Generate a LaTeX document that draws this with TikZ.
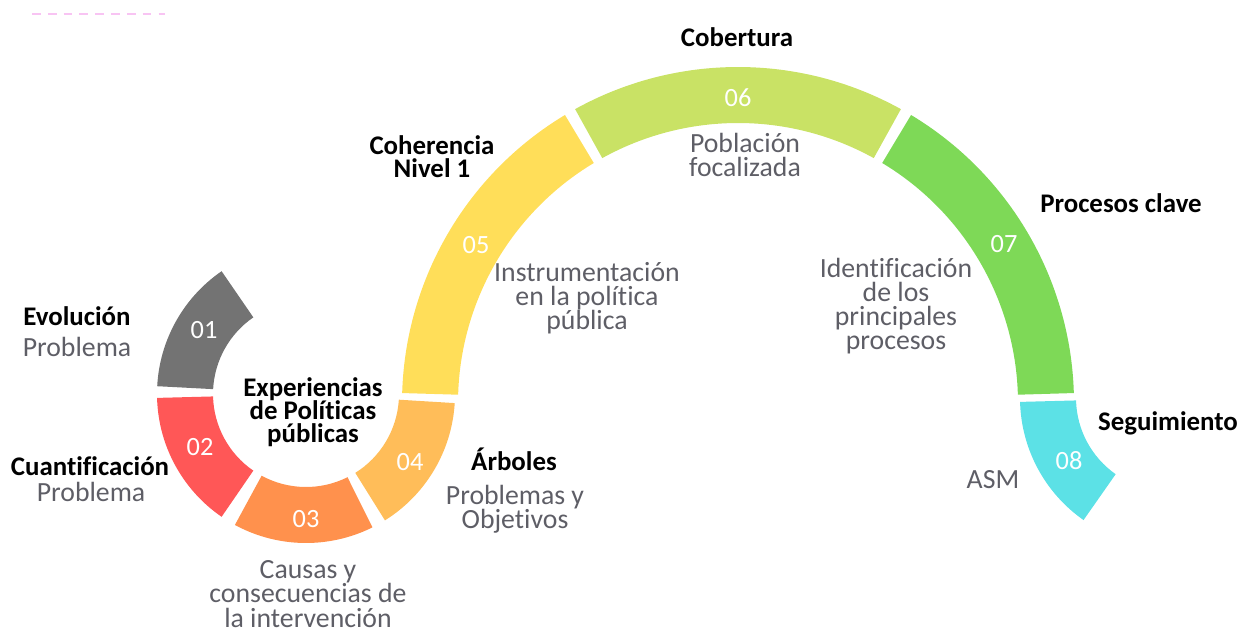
\documentclass[tikz,border=0pt]{standalone}
\usepackage{fontspec}
\setmainfont{Carlito}[Ligatures=CommonOff]
\definecolor{c01}{HTML}{737373}
\definecolor{c02}{HTML}{FF5757}
\definecolor{c03}{HTML}{FF914D}
\definecolor{c04}{HTML}{FFBD59}
\definecolor{c05}{HTML}{FFDE59}
\definecolor{c06}{HTML}{C9E265}
\definecolor{c07}{HTML}{7ED957}
\definecolor{c08}{HTML}{5CE1E6}
\definecolor{txtgray}{HTML}{5E5E66}
\definecolor{pinkdash}{HTML}{F8C4F3}
\newcommand\annsec[7]{\fill[#1] ([shift={(#2,#3)}]#4:#6) arc[start angle=#4,end angle=#5,radius=#6] -- ([shift={(#2,#3)}]#5:#7) arc[start angle=#5,end angle=#4,radius=#7] -- cycle;}
\begin{document}
\begin{tikzpicture}[x=0.02cm,y=0.02cm,
  title/.style={font=\fontsize{15.3}{13.2}\selectfont\bfseries, text=black, align=center, inner sep=0pt},
  desc/.style={font=\fontsize{15.8}{13.8}\selectfont, text=txtgray, align=center, inner sep=0pt},
  num/.style={font=\fontsize{15}{14}\selectfont, text=white, inner sep=0pt}]
\useasboundingbox (0,0) rectangle (1240,-629);
% faint dashed artefact
\draw[pinkdash, line width=1.6, dash pattern=on 5 off 4] (32,-14) -- (165,-14);
% small ring
\annsec{c01}{306}{-394}{124.5}{177}{149}{93}
\annsec{c02}{306}{-394}{181.5}{235.5}{149}{93}
\annsec{c03}{306}{-394}{241.5}{296.5}{149}{93}
\annsec{c04}{306}{-394}{302}{356.5}{149}{93}
% big arc
\annsec{c05}{738}{-403}{121}{178.3}{336}{280}
\annsec{c06}{738}{-403}{61}{119}{336}{280}
\annsec{c07}{738}{-403}{1.7}{59}{336}{280}
% last segment
\annsec{c08}{1169}{-398}{181.5}{235}{149}{93}
% numbers
\node[num] (n01) at (204,-330) {01};
\node[num] (n02) at (200,-447) {02};
\node[num] (n03) at (306,-519) {03};
\node[num] (n04) at (410,-462) {04};
\node[num] (n05) at (476,-245) {05};
\node[num] (n06) at (738,-98) {06};
\node[num] (n07) at (1004,-244) {07};
\node[num] (n08) at (1069,-461) {08};
% titles
\node[title] (t01) at (77,-316) {Evolución};
\node[title] (t02) at (90,-466) {Cuantificación};
\node[title] (t03) at (313,-412) {Experiencias\\de Políticas\\públicas};
\node[title] (t04) at (514,-459) {Árboles};
\node[title] (t05) at (432,-157) {Coherencia\\Nivel 1};
\node[title] (t06) at (737,-37) {Cobertura};
\node[title] (t07) at (1121,-203) {Procesos clave};
\node[title] (t08) at (1168,-423) {Seguimiento};
% descriptions
\node[desc] (d01) at (77,-347) {Problema};
\node[desc] (d02) at (91,-492) {Problema};
\node[desc] (d03) at (308,-594) {Causas y\\consecuencias de\\la intervención};
\node[desc] (d04) at (515,-509) {Problemas y\\Objetivos};
\node[desc] (d05) at (587,-298) {Instrumentación\\en la política\\pública};
\node[desc] (d06) at (745,-155) {Población\\focalizada};
\node[desc] (d07) at (896,-306) {Identificación\\de los\\principales\\procesos};
\node[desc] (d08) at (993,-480) {ASM};
\end{tikzpicture}
\end{document}
